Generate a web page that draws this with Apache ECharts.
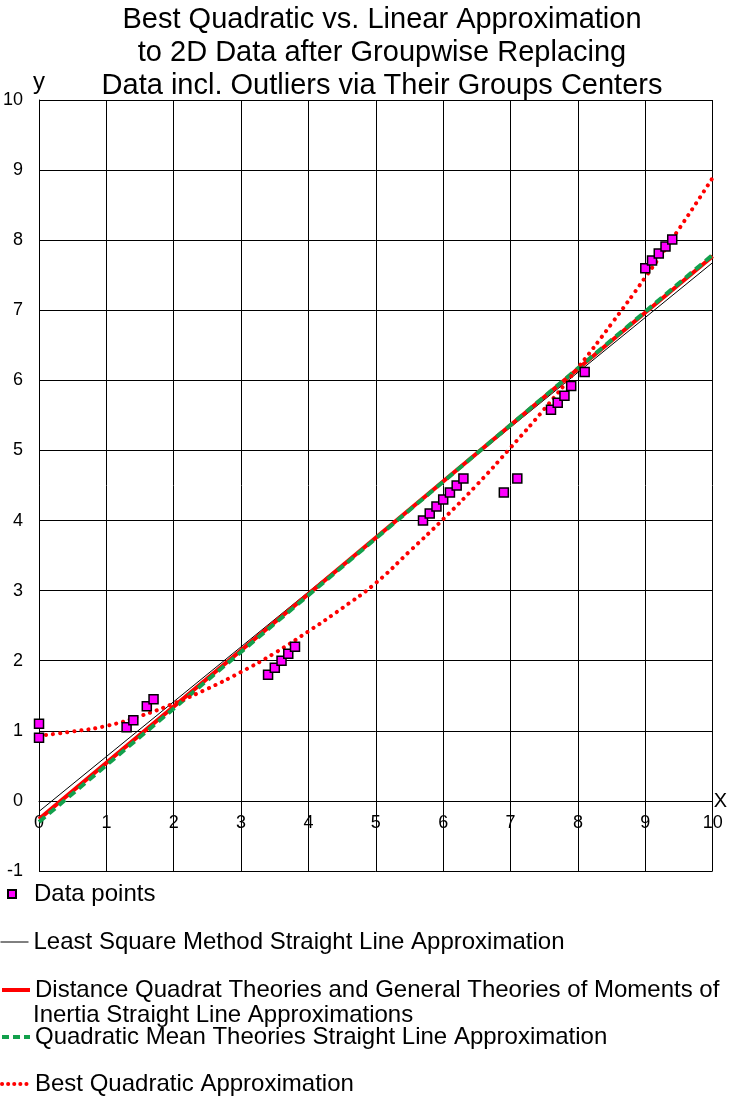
<!DOCTYPE html>
<html>
<head>
<meta charset="utf-8">
<script src="https://cdn.jsdelivr.net/npm/echarts@6/dist/echarts.min.js"></script>
<style>
html,body{margin:0;padding:0;background:#fff;}
#chart{width:730px;height:1098px;}
</style>
</head>
<body>
<div id="chart"></div>
<script>
// ---- data ----
var titleText = 'Best Quadratic vs. Linear Approximation\nto 2D Data after Groupwise Replacing\nData incl. Outliers via Their Groups Centers';
var seriesNames = [
  'Data points',
  'Least Square Method Straight Line Approximation',
  'Distance Quadrat Theories and General Theories of Moments of',
  'Quadratic Mean Theories Straight Line Approximation',
  'Best Quadratic Approximation'
];
var secondLineText = 'Inertia Straight Line Approximations';

var dataPoints = [
  [0, 1.1], [0, 0.9], [1.3, 1.05], [1.4, 1.15], [1.6, 1.35], [1.7, 1.45],
  [3.4, 1.8], [3.5, 1.9], [3.6, 2.0], [3.7, 2.1], [3.8, 2.2],
  [5.7, 4.0], [5.8, 4.1], [5.9, 4.2], [6.0, 4.3], [6.1, 4.4], [6.2, 4.5], [6.3, 4.6],
  [6.9, 4.4], [7.1, 4.6],
  [7.6, 5.58], [7.7, 5.68], [7.8, 5.78], [7.9, 5.92], [8.1, 6.12],
  [9.0, 7.6], [9.1, 7.71], [9.2, 7.81], [9.3, 7.91], [9.4, 8.01]
];
var leastSquareLine = [[0, -0.15], [10, 7.68]];
var distanceQuadratLine = [[0, -0.26], [10, 7.77]];
var quadraticMeanLine = [[0, -0.30], [10, 7.79]];
var bestQuadraticCurve = [
  [0, 0.93], [0.5, 0.99], [1, 1.07], [1.5, 1.21], [2, 1.39], [2.5, 1.60],
  [3, 1.84], [3.5, 2.11], [4, 2.42], [4.5, 2.75], [5, 3.11], [5.5, 3.56],
  [6, 4.02], [6.5, 4.51], [7, 5.04], [7.5, 5.59], [8, 6.18], [8.5, 6.81],
  [9, 7.47], [9.5, 8.16], [10, 8.89]
];
var xTicks = [0, 10, 1];
var yTicks = [-1, 10, 1];

var FONT = '"Liberation Sans", Arial, sans-serif';
var LEGEND_FS = 24;
var GREEN = '#12a04c';
var chart = echarts.init(document.getElementById('chart'), null, {renderer: 'canvas'});

function legendAt(name, top, lineStyle, extra) {
  var base = {
    data: [name],
    left: 0,
    top: top,
    itemWidth: 28,
    itemHeight: 14,
    padding: 0,
    selectedMode: false,
    itemStyle: {opacity: 0},
    lineStyle: lineStyle,
    textStyle: {fontFamily: FONT, fontSize: LEGEND_FS, color: '#000'}
  };
  return Object.assign(base, extra || {});
}

var option = {
  backgroundColor: '#fff',
  animation: false,
  title: {
    text: titleText,
    left: 377,
    textAlign: 'center',
    top: -2,
    textStyle: {fontFamily: FONT, fontSize: 29, fontWeight: 'normal', color: '#000', lineHeight: 33}
  },
  grid: {left: 38, right: 17, top: 100, bottom: 227, containLabel: false},
  xAxis: {
    type: 'value',
    position: 'bottom',
    offset: -70,
    min: xTicks[0], max: xTicks[1], interval: xTicks[2],
    name: 'X',
    nameLocation: 'end',
    nameGap: 1,
    nameTextStyle: {fontFamily: FONT, fontSize: 20, color: '#000', verticalAlign: 'bottom', padding: [0, 0, -10, 0]},
    axisLine: {onZero: false, lineStyle: {color: '#000', width: 1}},
    axisTick: {show: false},
    axisLabel: {fontFamily: FONT, fontSize: 18, color: '#000', margin: 13, showMinLabel: true, showMaxLabel: true},
    splitLine: {show: true, lineStyle: {color: '#000', width: 1}}
  },
  yAxis: {
    type: 'value',
    min: yTicks[0], max: yTicks[1], interval: yTicks[2],
    name: 'y',
    nameLocation: 'end',
    nameGap: 6,
    nameTextStyle: {fontFamily: FONT, fontSize: 24, color: '#000', align: 'center'},
    axisLine: {show: true, onZero: false, lineStyle: {color: '#000', width: 1}},
    axisTick: {show: false},
    axisLabel: {fontFamily: FONT, fontSize: 18, color: '#000', margin: 16},
    splitLine: {show: true, lineStyle: {color: '#000', width: 1}}
  },
  legend: [
    legendAt(seriesNames[0], 882, undefined, {left: 7, itemWidth: 8, itemHeight: 8, itemStyle: {},
      textStyle: {fontFamily: FONT, fontSize: LEGEND_FS, color: '#000', padding: [0, 0, 0, 13]}}),
    legendAt(seriesNames[1], 930, {color: '#000', width: 1, type: 'solid'}),
    legendAt(seriesNames[2], 978, {color: '#ff0000', width: 4, type: 'solid'}),
    legendAt(seriesNames[3], 1025, {color: GREEN, width: 4, type: [7, 4]}),
    legendAt(seriesNames[4], 1072, {color: '#ff0000', width: 4, type: [0.1, 6], cap: 'round'})
  ],
  graphic: [{
    type: 'text',
    left: 33,
    top: 1003,
    style: {text: secondLineText, font: LEGEND_FS + 'px ' + FONT, fill: '#000'}
  }],
  series: [
    {
      name: seriesNames[1], type: 'line', data: leastSquareLine,
      symbol: 'none', z: 2,
      lineStyle: {color: '#000', width: 1}, itemStyle: {color: '#000'}
    },
    {
      name: seriesNames[2], type: 'line', data: distanceQuadratLine,
      symbol: 'none', z: 3,
      lineStyle: {color: '#ff0000', width: 4}, itemStyle: {color: '#ff0000'}
    },
    {
      name: seriesNames[3], type: 'line', data: quadraticMeanLine,
      symbol: 'none', z: 4,
      lineStyle: {color: GREEN, width: 4, type: [8, 5]}, itemStyle: {color: GREEN}
    },
    {
      name: seriesNames[4], type: 'line', data: bestQuadraticCurve,
      symbol: 'none', smooth: true, z: 5,
      lineStyle: {color: '#ff0000', width: 4, type: [0.1, 7], cap: 'round'}, itemStyle: {color: '#ff0000'}
    },
    {
      name: seriesNames[0], type: 'scatter', data: dataPoints,
      symbol: 'rect', symbolSize: 9, z: 6,
      itemStyle: {color: '#ff00ff', borderColor: '#000', borderWidth: 1.5, opacity: 1}
    }
  ]
};
chart.setOption(option);
</script>
</body>
</html>
